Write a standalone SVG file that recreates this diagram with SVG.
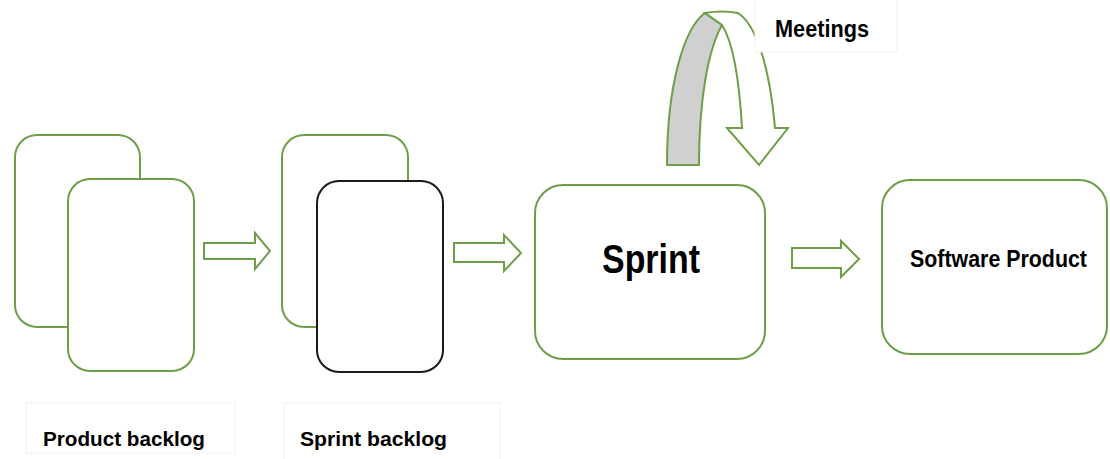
<svg xmlns="http://www.w3.org/2000/svg" width="1110" height="459" viewBox="0 0 1110 459">
<style>
.card{fill:#fff;stroke:#6e9f48;stroke-width:2}
.dark{fill:#fff;stroke:#1a1a1a;stroke-width:2}
.arrow{fill:#fff;stroke:#6e9f48;stroke-width:2;stroke-linejoin:miter}
.lbl{fill:#fff;stroke:#f0f0f0;stroke-width:1}
.t{font-family:"Liberation Sans",Arial,sans-serif;font-weight:bold;fill:#000}
</style>
<rect width="1110" height="459" fill="#fff"/>
<g id="product-backlog">
<rect class="card" x="15" y="135" width="125" height="192" rx="22"/>
<rect class="card" x="68" y="179" width="126" height="192" rx="22"/>
</g>
<g id="sprint-backlog">
<rect class="card" x="282" y="135" width="126" height="192" rx="22"/>
<rect class="dark" x="317" y="181" width="126" height="191" rx="22"/>
</g>
<g id="sprint">
<rect class="card" x="535" y="185" width="230" height="174" rx="28"/>
<text class="t" x="602" y="273" font-size="41" textLength="98" lengthAdjust="spacingAndGlyphs">Sprint</text>
</g>
<g id="software-product">
<rect class="card" x="882" y="180" width="225" height="174" rx="28"/>
<text class="t" x="910" y="267" font-size="23" textLength="177" lengthAdjust="spacingAndGlyphs">Software Product</text>
</g>
<g id="connectors">
<path class="arrow" d="M204,243 L255,243 L255,233 L270,251 L255,269 L255,259 L204,259 Z"/>
<path class="arrow" d="M454,243 L504,243 L504,235 L521,253 L504,271 L504,262 L454,262 Z"/>
<path class="arrow" d="M792,248 L841,248 L841,241 L859,259 L841,277 L841,268 L792,268 Z"/>
<g id="meetings-loop">
<path d="M667,165 C667,85 684,28 705,13 L722,25 C708,50 699,100 699,165 Z" fill="#d0d0d0" stroke="#6e9f48" stroke-width="2" stroke-linejoin="round"/>
<path class="arrow" d="M705,13 Q722,10 738,13 C757,25 770,70 775,128 L788,128 L759,165 L727,128 L742,128 C739,75 733,42 722,25 Z"/>
</g>
</g>
<g id="meetings-label">
<rect class="lbl" x="755" y="-1" width="142" height="53"/>
<text class="t" x="775" y="37" font-size="23" textLength="94" lengthAdjust="spacingAndGlyphs">Meetings</text>
</g>
<g id="product-backlog-label">
<rect class="lbl" x="26" y="403" width="209" height="50"/>
<text class="t" x="43" y="446" font-size="20" textLength="162" lengthAdjust="spacingAndGlyphs">Product backlog</text>
</g>
<g id="sprint-backlog-label">
<rect class="lbl" x="284" y="403" width="216" height="57"/>
<text class="t" x="300" y="446" font-size="20" textLength="147" lengthAdjust="spacingAndGlyphs">Sprint backlog</text>
</g>
</svg>
